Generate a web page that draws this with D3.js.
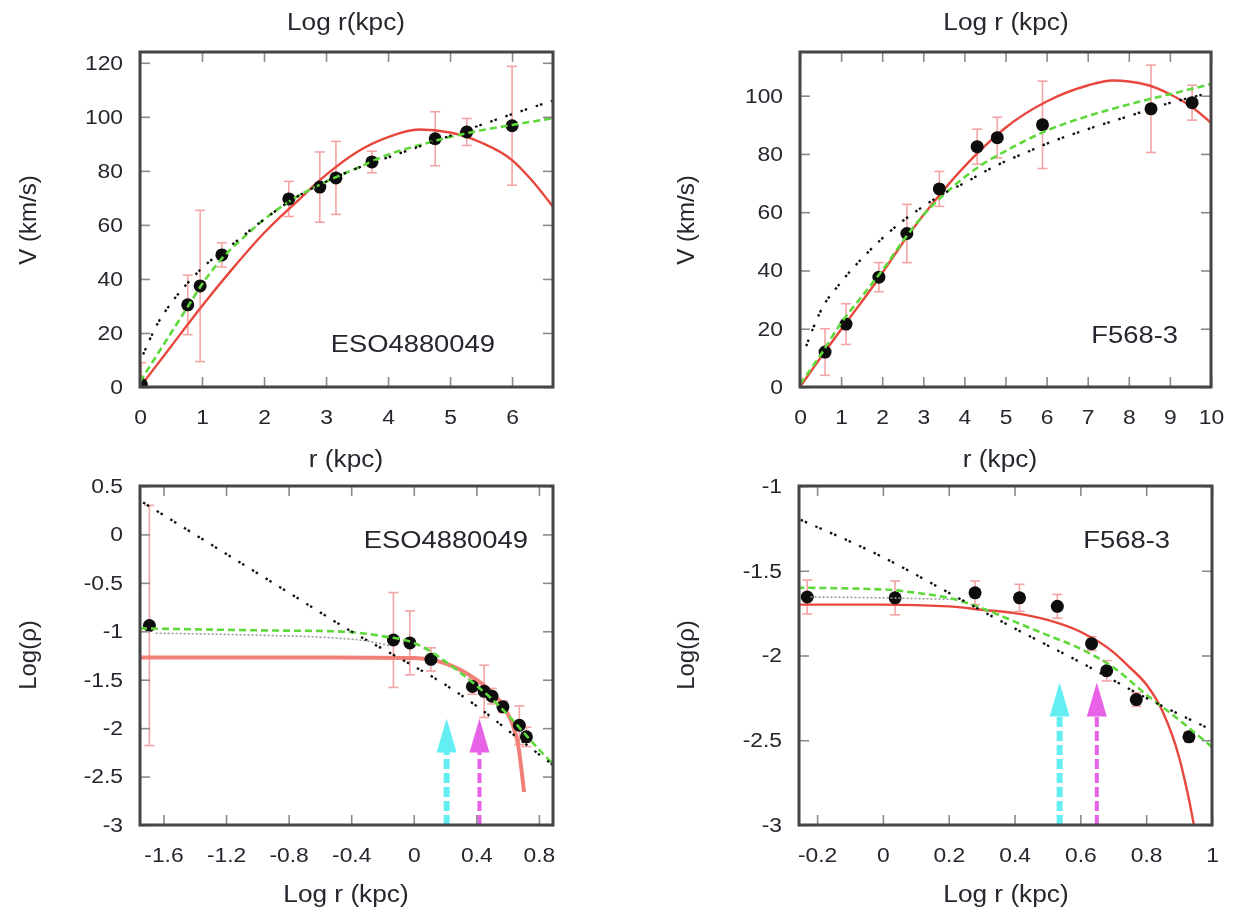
<!DOCTYPE html>
<html><head><meta charset="utf-8">
<script src="https://cdn.jsdelivr.net/npm/d3@7"></script>
<style>
html,body{margin:0;padding:0;background:#fff;}
text{font-family:"Liberation Sans",Arial,sans-serif;fill:#26262e;}
</style></head>
<body>
<svg id="chart" width="1234" height="912"></svg>
<script>
// ---------------- DATA ----------------
// Top-left: ESO4880049 rotation curve (r in kpc, V in km/s)
const esoVelX   = [0.02, 0.77, 0.97, 1.32, 2.4, 2.9, 3.16, 3.74, 4.76, 5.27, 6.0];
const esoVelY   = [1, 30.4, 37.4, 48.9, 69.6, 74, 77.4, 83.3, 91.9, 94.4, 96.7];
const esoVelErr = [8, 11, 28, 4.5, 6.5, 13, 13.5, 4, 10, 5, 22];
const esoVelRed   = [[0,0],[0.5,15],[1,30],[1.5,44],[2,57],[2.5,68],[3,78.5],[3.5,87],[4,92.5],[4.5,95.3],[5,94.2],[5.5,90.5],[6,84],[6.3,77],[6.66,66.7]];
const esoVelGreen = [[0,2],[0.25,11],[0.5,20],[0.75,29],[1,38],[1.3,47],[1.7,56],[2,62],[2.5,70],[3,76],[3.5,81],[4,86],[4.5,89.5],[5,92.5],[5.5,95],[6,97],[6.66,99.5]];
const esoVelBlack = [[0.05,12],[0.25,22],[0.5,31],[0.75,38],[1,44],[1.5,53],[2,62],[2.5,70],[3,76],[3.5,81],[4,85],[4.5,89],[5,93],[5.5,97],[6,101],[6.66,106]];

// Top-right: F568-3 rotation curve
const fVelX   = [0.61, 1.12, 1.92, 2.6, 3.39, 4.31, 4.8, 5.9, 8.54, 9.54];
const fVelY   = [12, 21.6, 37.7, 52.7, 68, 82.5, 85.6, 90, 95.5, 97.6];
const fVelErr = [8, 7, 5, 10, 6, 6, 7, 15, 15, 6];
const fVelRed   = [[0,0],[0.6,12],[1.1,21.6],[1.9,37],[2.6,51.5],[3.4,66],[4.3,80],[5,89],[6,98],[7,103.5],[7.6,105.2],[8.5,103.5],[9,100.5],[9.5,96.5],[10,90.7]];
const fVelGreen = [[0,1],[0.5,11],[1,22],[1.5,31],[2,40],[2.5,50],[3,59],[3.5,66],[4,72],[4.5,77],[5,81],[6,88],[7,93],[8,97],[9,100.5],[10,104]];
const fVelBlack = [[0.15,14],[0.5,26],[1,36],[1.5,44],[2,51],[2.5,57],[3,62],[3.5,66.5],[4,70],[4.5,74],[5,77.5],[5.5,80.5],[6,83.5],[7,88.5],[8,93],[9,97.5],[10,101]];

// Bottom-left: ESO4880049 density profile (Log r, Log rho)
const esoRhoX   = [-1.69, -0.13, -0.025, 0.11, 0.375, 0.45, 0.5, 0.57, 0.675, 0.72];
const esoRhoY   = [-0.94, -1.09, -1.12, -1.29, -1.57, -1.62, -1.67, -1.78, -1.97, -2.09];
const esoRhoErr = [1.24, 0.49, 0.33, 0.12, 0.08, 0.27, 0.08, 0.06, 0.2, 0.1];
const esoRhoRed   = [[-1.75,-1.27],[-1,-1.27],[-0.5,-1.27],[0,-1.275],[0.1,-1.29],[0.2,-1.33],[0.3,-1.4],[0.4,-1.5],[0.5,-1.63],[0.55,-1.72],[0.6,-1.85],[0.64,-2.0],[0.67,-2.2],[0.69,-2.45],[0.705,-2.66]];
const esoRhoGreen = [[-1.75,-0.97],[-1,-0.99],[-0.5,-1.0],[-0.2,-1.05],[0,-1.12],[0.1,-1.2],[0.2,-1.31],[0.3,-1.43],[0.4,-1.56],[0.5,-1.7],[0.6,-1.86],[0.7,-2.04],[0.8,-2.22],[0.89,-2.37]];
const esoRhoBlack = [[-1.73,0.33],[-1.2,-0.2],[-0.8,-0.6],[-0.4,-1.0],[-0.1,-1.27],[0,-1.36],[0.2,-1.55],[0.4,-1.77],[0.6,-2.02],[0.8,-2.27],[0.89,-2.38]];
const esoRhoGray  = [[-1.65,-1.02],[-1.0,-1.04],[-0.5,-1.07],[-0.3,-1.1],[-0.15,-1.15]];
const esoArrowX   = [0.21, 0.42];
const esoArrowTip = [-1.9, -1.9];

// Bottom-right: F568-3 density profile
const fRhoX   = [-0.23, 0.037, 0.28, 0.415, 0.53, 0.634, 0.68, 0.77, 0.93];
const fRhoY   = [-1.655, -1.66, -1.63, -1.66, -1.71, -1.93, -2.09, -2.26, -2.48];
const fRhoErr = [0.1, 0.1, 0.07, 0.08, 0.07, 0.04, 0.06, 0.04, 0.03];
const fRhoRed   = [[-0.26,-1.7],[0,-1.7],[0.2,-1.71],[0.3,-1.73],[0.4,-1.75],[0.5,-1.79],[0.6,-1.86],[0.7,-1.98],[0.75,-2.07],[0.8,-2.17],[0.85,-2.33],[0.9,-2.6],[0.93,-2.85],[0.945,-3.0]];
const fRhoGreen = [[-0.26,-1.6],[0,-1.61],[0.1,-1.63],[0.2,-1.66],[0.3,-1.72],[0.4,-1.8],[0.5,-1.88],[0.6,-1.96],[0.7,-2.07],[0.8,-2.23],[0.9,-2.38],[1.0,-2.54]];
const fRhoBlack = [[-0.25,-1.2],[0,-1.42],[0.2,-1.63],[0.4,-1.84],[0.6,-2.04],[0.8,-2.25],[1.0,-2.44]];
const fRhoGray  = [[-0.22,-1.655],[0,-1.66],[0.23,-1.67]];
const fArrowX   = [0.537, 0.65];
const fArrowTip = [-2.16, -2.16];

// Tick values
const velTicksXeso = [0,1,2,3,4,5,6];
const velTicksXf   = [0,1,2,3,4,5,6,7,8,9,10];
const velTicksYeso = [0,20,40,60,80,100,120];
const velTicksYf   = [0,20,40,60,80,100];
const rhoTicksXeso = [-1.6,-1.2,-0.8,-0.4,0,0.4,0.8];
const rhoTicksXf   = [-0.2,0,0.2,0.4,0.6,0.8,1];
const rhoTicksYeso = [-3,-2.5,-2,-1.5,-1,-0.5,0,0.5];
const rhoTicksYf   = [-3,-2.5,-2,-1.5,-1];

// Labels
const galaxyNames = ["ESO4880049", "F568-3"];

// ---------------- DRAW ----------------
const svgRoot = d3.select("#chart");
const defs = svgRoot.append("defs");
defs.append("filter").attr("id","soft").attr("x","-5%").attr("y","-5%").attr("width","110%").attr("height","110%")
  .append("feGaussianBlur").attr("stdDeviation",0.5);
const svg = svgRoot.append("g").attr("filter","url(#soft)");

const STRETCH = 1.14;
function stretch(sel){
  sel.each(function(){
    const L = this.getComputedTextLength();
    if (L > 0) { this.setAttribute("textLength", (L*STRETCH).toFixed(1)); this.setAttribute("lengthAdjust","spacingAndGlyphs"); }
  });
}

const panels = [
  {id:"tl", left:140, right:553, top:52, bottom:387, xd:[0,6.66], yd:[0,124], xt:velTicksXeso, yt:velTicksYeso,
   px:esoVelX, py:esoVelY, pe:esoVelErr, red:esoVelRed, green:esoVelGreen, black:esoVelBlack, gray:null,
   redW:2.4, redC:"#e8473d", name:galaxyNames[0], nameX:495, nameY:352, arrows:null},
  {id:"tr", left:800, right:1211, top:52, bottom:387, xd:[0,10], yd:[0,115], xt:velTicksXf, yt:velTicksYf,
   px:fVelX, py:fVelY, pe:fVelErr, red:fVelRed, green:fVelGreen, black:fVelBlack, gray:null,
   redW:2.4, redC:"#e8473d", name:galaxyNames[1], nameX:1178, nameY:343, arrows:null},
  {id:"bl", left:140, right:553, top:486, bottom:825, xd:[-1.75,0.89], yd:[-3,0.5], xt:rhoTicksXeso, yt:rhoTicksYeso,
   px:esoRhoX, py:esoRhoY, pe:esoRhoErr, red:esoRhoRed, green:esoRhoGreen, black:esoRhoBlack, gray:esoRhoGray,
   redW:4, redC:"#f08078", name:galaxyNames[0], nameX:528, nameY:548, arrows:[esoArrowX, esoArrowTip]},
  {id:"br", left:799, right:1212, top:486, bottom:825, xd:[-0.255,1], yd:[-3,-1], xt:rhoTicksXf, yt:rhoTicksYf,
   px:fRhoX, py:fRhoY, pe:fRhoErr, red:fRhoRed, green:fRhoGreen, black:fRhoBlack, gray:fRhoGray,
   redW:2.4, redC:"#e8473d", name:galaxyNames[1], nameX:1170, nameY:548, arrows:[fArrowX, fArrowTip]}
];

panels.forEach(p => {
  const x = d3.scaleLinear().domain(p.xd).range([p.left, p.right]);
  const y = d3.scaleLinear().domain(p.yd).range([p.bottom, p.top]);
  const g = svg.append("g");

  defs.append("clipPath").attr("id","clip-"+p.id).append("rect")
    .attr("x",p.left).attr("y",p.top).attr("width",p.right-p.left).attr("height",p.bottom-p.top);
  const plot = g.append("g").attr("clip-path","url(#clip-"+p.id+")");

  // axes (inward ticks, mirrored)
  const fmt = d => String(d);
  const ax = [
    g.append("g").attr("transform",`translate(0,${p.bottom})`).call(d3.axisBottom(x).tickValues(p.xt).tickSize(-10).tickSizeOuter(0).tickPadding(23).tickFormat(fmt)),
    g.append("g").attr("transform",`translate(0,${p.top})`).call(d3.axisTop(x).tickValues(p.xt).tickSize(-10).tickSizeOuter(0).tickFormat("")),
    g.append("g").attr("transform",`translate(${p.left},0)`).call(d3.axisLeft(y).tickValues(p.yt).tickSize(-10).tickSizeOuter(0).tickPadding(17).tickFormat(fmt)),
    g.append("g").attr("transform",`translate(${p.right},0)`).call(d3.axisRight(y).tickValues(p.yt).tickSize(-10).tickSizeOuter(0).tickFormat(""))
  ];
  ax.forEach(a => {
    a.select(".domain").remove();
    a.selectAll(".tick line").attr("stroke","#8a8a8a").attr("stroke-width",1.6);
    a.selectAll(".tick text").attr("font-size",20).attr("fill","#26262e")
      .attr("font-family","'Liberation Sans',Arial,sans-serif").call(stretch);
  });

  const line = d3.line().x(d=>x(d[0])).y(d=>y(d[1])).curve(d3.curveMonotoneX);

  // error bars
  const eb = plot.append("g").attr("stroke","#f4a4a4").attr("stroke-width",1.6).attr("fill","none");
  p.px.forEach((xv,i) => {
    const x0 = x(xv), y1 = y(p.py[i]+p.pe[i]), y2 = y(p.py[i]-p.pe[i]);
    eb.append("line").attr("x1",x0).attr("x2",x0).attr("y1",y1).attr("y2",y2);
    eb.append("line").attr("x1",x0-5).attr("x2",x0+5).attr("y1",y1).attr("y2",y1);
    eb.append("line").attr("x1",x0-5).attr("x2",x0+5).attr("y1",y2).attr("y2",y2);
  });

  // red solid
  plot.append("path").datum(p.red).attr("d",line).attr("fill","none")
    .attr("stroke",p.redC).attr("stroke-width",p.redW);

  // data points
  plot.append("g").selectAll("circle").data(p.px).join("circle")
    .attr("cx",d=>x(d)).attr("cy",(d,i)=>y(p.py[i])).attr("r",6.5).attr("fill","#0a0a0a");

  // gray dotted
  if (p.gray) plot.append("path").datum(p.gray).attr("d",line).attr("fill","none")
    .attr("stroke","#9a9a9a").attr("stroke-width",1.6).attr("stroke-dasharray","2,2");

  // green dashed
  plot.append("path").datum(p.green).attr("d",line).attr("fill","none")
    .attr("stroke","#5ed83a").attr("stroke-width",2.6).attr("stroke-dasharray","7,4");

  // black dotted
  plot.append("path").datum(p.black).attr("d",line).attr("fill","none")
    .attr("stroke","#111").attr("stroke-width",2.3).attr("stroke-dasharray","2.5,2,2.5,9");

  // arrows
  if (p.arrows) {
    const cols = ["#62eef2","#e862e8"];
    p.arrows[0].forEach((xv,i) => {
      const xx = x(xv), tip = y(p.arrows[1][i]);
      plot.append("line").attr("x1",xx).attr("x2",xx).attr("y1",p.bottom).attr("y2",tip+30)
        .attr("stroke",cols[i]).attr("stroke-width",i===0?6:4).attr("stroke-dasharray","10,4");
      plot.append("path").attr("d",`M${xx},${tip} L${xx-10},${tip+34} L${xx+10},${tip+34} Z`).attr("fill",cols[i]);
    });
  }

  // frame
  g.append("rect").attr("x",p.left).attr("y",p.top).attr("width",p.right-p.left).attr("height",p.bottom-p.top)
    .attr("fill","none").attr("stroke","#454545").attr("stroke-width",3);

  // galaxy name
  g.append("text").attr("x",p.nameX).attr("y",p.nameY).attr("text-anchor","end")
    .attr("font-size",24).text(p.name).call(stretch);
});

// axis titles
const titles = [
  {t:"Log r(kpc)", x:346, y:30},
  {t:"Log r (kpc)", x:1006, y:30},
  {t:"r (kpc)", x:346, y:467},
  {t:"r (kpc)", x:1000, y:467},
  {t:"Log r (kpc)", x:346, y:902},
  {t:"Log r (kpc)", x:1006, y:902}
];
titles.forEach(d => svg.append("text").attr("x",d.x).attr("y",d.y).attr("text-anchor","middle")
  .attr("font-size",23).text(d.t).call(stretch));

const ytitles = [
  {t:"V (km/s)", x:28, y:220},
  {t:"V (km/s)", x:686, y:220},
  {t:"Log(\u03c1)", x:28, y:655},
  {t:"Log(\u03c1)", x:686, y:655}
];
ytitles.forEach(d => svg.append("text").attr("transform",`translate(${d.x},${d.y}) rotate(-90)`)
  .attr("text-anchor","middle").attr("dy","0.35em").attr("font-size",24).text(d.t));
</script>
</body></html>
